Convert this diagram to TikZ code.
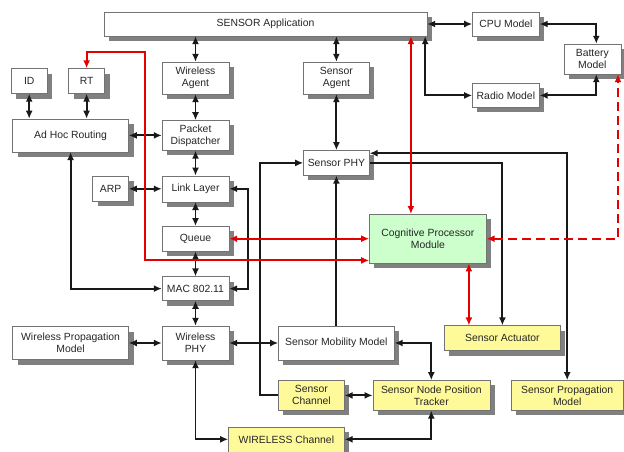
\documentclass[tikz,border=0pt]{standalone}
\usepackage{fontspec}
\setmainfont{Liberation Sans}
\usetikzlibrary{positioning,shadows,arrows.meta}
\tikzstyle{white_box} = [draw=black!55,
						 thin,
						 align=center,
						 fill=white,
						 text=black!85,
						 inner sep=1pt,
						 minimum width=67pt,
						 minimum height=25pt,
						 drop shadow={shadow xshift=5pt,shadow yshift=-5pt,fill=black!50,opacity=1}]
\tikzstyle{yellow_box} = [white_box,
						  fill=yellow!40]
\tikzstyle{green_box} = [white_box,
						 fill=green!20]
\tikzstyle{bi_line} = [line width=1.9pt,
					   black!90,
					   {Latex[length=8pt,width=7pt]}-{Latex[length=8pt,width=7pt]}]
\tikzstyle{one_line} = [line width=1.9pt,
						black!90,
						-{Latex[length=8pt,width=7pt]}]
\tikzstyle{red_line} = [bi_line,
						red!90!black]

\begin{document}
\begin{tikzpicture}[x=1pt,y=-1pt,font=\fontsize{10.4}{12}\selectfont]
	\useasboundingbox (0,0) rectangle (624,451);

	%%%%%%%%%%%%
	% TOP ROW  %
	%%%%%%%%%%%%
	\node[white_box, minimum width=323pt, minimum height=24pt] (app) at (265.5,24) {SENSOR Application};
	\node[white_box, right=45pt of app, minimum height=24pt] (cpu) {CPU Model};
	\node[white_box, below=47pt of cpu, minimum height=24pt] (radio) {Radio Model};
	\node[white_box, right=24pt of cpu, yshift=-35pt, minimum width=57pt, minimum height=30pt] (bat) {Battery\\Model};

	%%%%%%%%%%%%%%%%%%%
	% WIRELESS STACK  %
	%%%%%%%%%%%%%%%%%%%
	\node[white_box, minimum height=32pt] (wag) at (195.5,78) {Wireless\\Agent};
	\node[white_box, below=26pt of wag, minimum height=30pt] (pd) {Packet\\Dispatcher};
	\node[white_box, below=25pt of pd, minimum height=26pt] (ll) {Link Layer};
	\node[white_box, below=24pt of ll] (q) {Queue};
	\node[white_box, below=25pt of q, minimum height=24pt] (mac) {MAC 802.11};
	\node[white_box, below=25pt of mac, minimum height=34pt] (wphy) {Wireless\\PHY};

	\node[white_box, left=33pt of pd, minimum width=116pt, minimum height=33pt] (ahr) {Ad Hoc Routing};
	\node[white_box, above=25pt of ahr, xshift=16pt, minimum width=36pt] (rt) {RT};
	\node[white_box, left=21pt of rt, minimum width=36pt] (id) {ID};
	\node[white_box, left=33pt of ll, minimum width=36pt] (arp) {ARP};
	\node[white_box, left=33pt of wphy, minimum width=116pt, minimum height=33pt] (wpm) {Wireless Propagation\\Model};

	%%%%%%%%%%%%%%%%%
	% SENSOR STACK  %
	%%%%%%%%%%%%%%%%%
	\node[white_box, right=74pt of wag, minimum width=66pt, minimum height=32pt] (sag) {Sensor\\Agent};
	\node[white_box, below=56pt of sag, minimum width=66pt] (sphy) {Sensor PHY};
	\node[green_box, right=140pt of q, minimum width=117pt, minimum height=49pt] (cpm) {Cognitive Processor\\Module};
	\node[white_box, right=49pt of wphy, minimum width=116pt, minimum height=34pt] (smm) {Sensor Mobility Model};
	\node[yellow_box, below=20pt of smm.south west, anchor=north west, minimum width=66pt, minimum height=30pt] (sch) {Sensor\\Channel};
	\node[yellow_box, right=28pt of sch, minimum width=117pt, minimum height=30pt] (snpt) {Sensor Node Position\\Tracker};
	\node[yellow_box, below=16pt of sch, xshift=-25pt, minimum width=116pt] (wch) {WIRELESS Channel};
	\node[yellow_box, below=62pt of cpm, xshift=74.5pt, minimum width=116pt] (sact) {Sensor Actuator};
	\node[yellow_box, right=21pt of snpt, minimum width=112pt, minimum height=30pt] (sprop) {Sensor Propagation\\Model};

	% black links
	\draw[bi_line] (wag.north) -- (wag.north |- app.south);
	\draw[bi_line] (sag.north) -- (sag.north |- app.south);
	\draw[bi_line] (app.east) -- (cpu.west);
	\draw[bi_line] (radio.west) -| ([xshift=-2pt]app.south east);
	\draw[bi_line] (cpu.east) -| ([xshift=4pt]bat.north);
	\draw[bi_line] (radio.east) -| ([xshift=4pt]bat.south);
	\draw[bi_line] (id.south) -- (id.south |- ahr.north);
	\draw[bi_line] (rt.south) -- (rt.south |- ahr.north);
	\draw[bi_line] (wag.south) -- (pd.north);
	\draw[bi_line] (pd.south) -- (ll.north);
	\draw[bi_line] (ll.south) -- (q.north);
	\draw[bi_line] (q.south) -- (mac.north);
	\draw[bi_line] (mac.south) -- (wphy.north);
	\draw[bi_line] (ahr.east) -- (ahr.east -| pd.west);
	\draw[bi_line] (arp.east) -- (ll.west);
	\draw[bi_line] (ll.east) -- ++(19,0) |- (mac.east);
	\draw[bi_line] (ahr.south) |- (mac.west);
	\draw[bi_line] (wpm.east) -- (wphy.west);
	\draw[bi_line] (wphy.east) -- (smm.west);
	\draw[bi_line] (wphy.south) |- (wch.west);
	\draw[bi_line] (sag.south) -- (sphy.north);
	\draw[one_line] (smm.north) -- (sphy.south);
	\draw[one_line] (sch.west) -- ++(-18,0) |- (sphy.west);
	\draw[one_line] (sphy.east) -| (sact.north);
	\draw[bi_line] ([yshift=-3pt]sphy.north east) -| (sprop.north);
	\draw[bi_line] (smm.east) -| (snpt.north);
	\draw[bi_line] (sch.east) -- (snpt.west);
	\draw[bi_line] (wch.east) -| (snpt.south);

	% red links
	\draw[red_line] ([xshift=-17pt]cpm.north) -- ([xshift=-17pt]cpm.north |- app.south);
	\draw[red_line] (q.east) -- (cpm.west);
	\draw[red_line] (rt.north) -- ++(0,-16) -| ([xshift=-224pt,yshift=3pt]cpm.south west) -- ([yshift=3pt]cpm.south west);
	\draw[red_line] ([xshift=41pt]cpm.south) -- ([xshift=41pt]cpm.south |- sact.north);
	\draw[red_line, dash pattern=on 9pt off 5pt] (cpm.east) -| ([xshift=-3pt]bat.south east);
\end{tikzpicture}
\end{document}
